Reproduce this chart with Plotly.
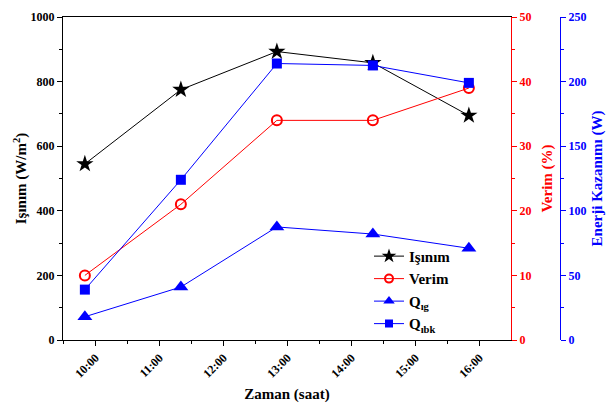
import plotly.graph_objects as go

# Measurement times and series
times = ["2024-06-01 09:50", "2024-06-01 11:20", "2024-06-01 12:50",
         "2024-06-01 14:20", "2024-06-01 15:50"]
isinim = [545, 775, 893, 858, 695]          # W/m2
verim = [10, 21, 34, 34, 39]                 # %
q_ig = [18, 41, 87.5, 82, 71]                # W
q_ibk = [39, 124, 214, 212.5, 199]           # W

FONT = "Liberation Serif"
BLACK, RED, BLUE = "#000000", "#ff0000", "#0000ff"

series = [
    # name, values, axis, color, symbol, plot marker size, legend marker size
    ("<b>Işınım</b>", isinim, "y", BLACK, "star", 13, 11),
    ("<b>Verim</b>", verim, "y2", RED, "circle-open", 10, 8),
    ("<b>Q<sub>ıg</sub></b>", q_ig, "y3", BLUE, "triangle-up", 13, 10),
    ("<b>Q<sub>ıbk</sub></b>", q_ibk, "y3", BLUE, "square", 10, 8),
]

fig = go.Figure()
for name, vals, ax, col, sym, size, lsize in series:
    mline = dict(width=2) if sym.endswith("open") else dict(width=0)
    fig.add_trace(go.Scatter(
        x=times, y=vals, name=name, mode="lines+markers", yaxis=ax,
        line=dict(color=col, width=1), showlegend=False,
        marker=dict(symbol=sym, size=size, color=col, line=mline)))
    # legend entry with smaller marker
    fig.add_trace(go.Scatter(
        x=[None], y=[None], name=name, mode="lines+markers", yaxis=ax,
        line=dict(color=col, width=1),
        marker=dict(symbol=sym, size=lsize, color=col, line=mline)))

tickfont = lambda c: dict(family=FONT, size=12, color=c)
titlefont = lambda c: dict(family=FONT, size=15, color=c)

fig.update_layout(
    template="none",
    width=612, height=407,
    margin=dict(l=63, r=30, t=17, b=67),
    paper_bgcolor="white", plot_bgcolor="white",
    font=dict(family=FONT),
    showlegend=True,
    legend=dict(x=(369 - 63) / 519, y=0.31, xanchor="left", yanchor="top",
                bgcolor="rgba(0,0,0,0)", font=dict(family=FONT, size=15, color=BLACK),
                tracegroupgap=0, itemwidth=30),
    xaxis=dict(
        domain=[0, 448 / 519], type="date", automargin=False,
        range=["2024-06-01 09:29:30", "2024-06-01 16:29:30"],
        tickformat="<b>%H:%M</b>", dtick=3600000,
        tick0="2024-06-01 10:00",
        tickangle=-45, tickfont=tickfont(BLACK),
        ticks="outside", ticklen=5, tickwidth=1, tickcolor=BLACK,
        minor=dict(dtick=1800000, ticks="outside", ticklen=3, tickcolor=BLACK),
        showline=True, linecolor=BLACK, linewidth=1, mirror=True,
        showgrid=False, zeroline=False,
        title=dict(text="<b>Zaman (saat)</b>", font=titlefont(BLACK), standoff=8)),
    yaxis=dict(
        range=[0, 1000], dtick=200, automargin=False,
        tickfont=tickfont(BLACK), tickprefix="<b>", ticksuffix="</b>",
        ticks="outside", ticklen=5, tickwidth=1, tickcolor=BLACK,
        minor=dict(dtick=100, ticks="outside", ticklen=3, tickcolor=BLACK),
        showline=True, linecolor=BLACK, linewidth=1,
        showgrid=False, zeroline=False,
        title=dict(text="<b>Işınım (W/m<sup>2</sup>)</b>", font=titlefont(BLACK), standoff=0)),
    yaxis2=dict(
        range=[0, 50], dtick=10, overlaying="y", side="right", anchor="x",
        automargin=False,
        tickfont=tickfont(RED), tickprefix="<b>", ticksuffix="</b>",
        ticks="outside", ticklen=5, tickwidth=1, tickcolor=RED,
        minor=dict(dtick=5, ticks="outside", ticklen=3, tickcolor=RED),
        showline=True, linecolor=RED, linewidth=1,
        showgrid=False, zeroline=False,
        title=dict(text="<b>Verim (%)</b>", font=titlefont(RED), standoff=11)),
    yaxis3=dict(
        range=[0, 250], dtick=50, overlaying="y", side="right",
        anchor="free", position=(560 - 63) / 519, automargin=False,
        tickfont=tickfont(BLUE), tickprefix="<b>", ticksuffix="</b>",
        ticks="outside", ticklen=5, tickwidth=1, tickcolor=BLUE,
        minor=dict(dtick=25, ticks="outside", ticklen=3, tickcolor=BLUE),
        showline=True, linecolor=BLUE, linewidth=1,
        showgrid=False, zeroline=False,
        title=dict(text="<b>Enerji Kazanımı (W)</b>", font=titlefont(BLUE), standoff=6)),
)

fig.write_html("out.html")
